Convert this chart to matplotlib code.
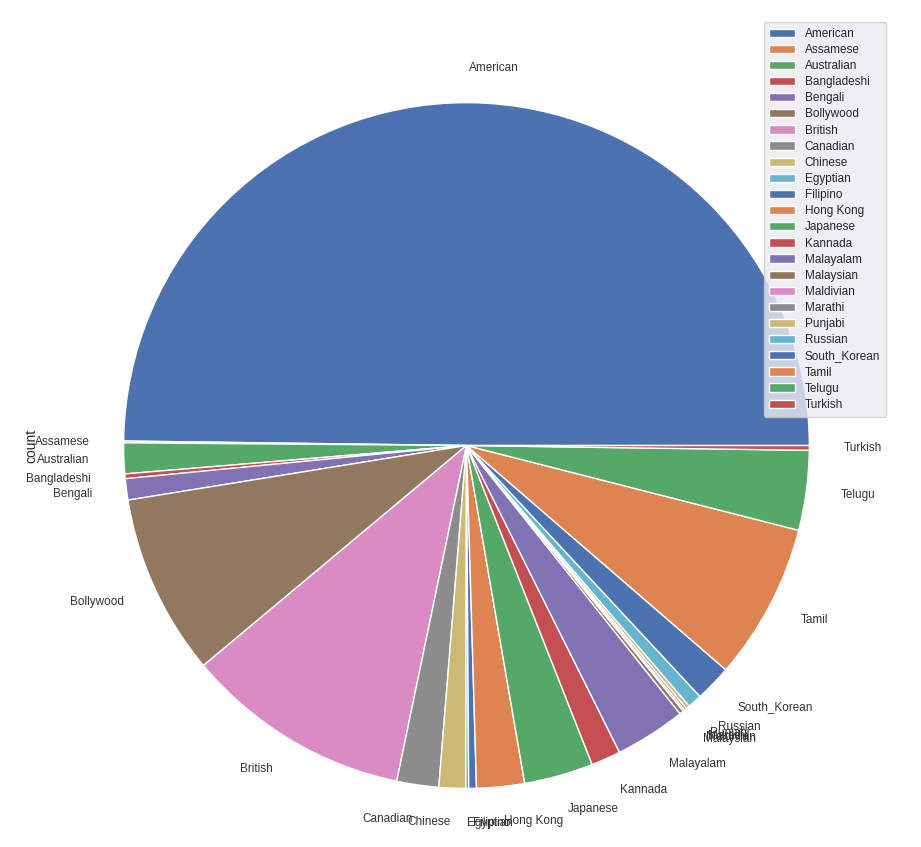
import matplotlib
matplotlib.use("Agg")
import matplotlib.pyplot as plt
import seaborn as sns

sns.set_theme()
plt.rcParams['font.family'] = ['Liberation Sans', 'DejaVu Sans']
categories = ["American","Assamese","Australian","Bangladeshi","Bengali","Bollywood","British",
              "Canadian","Chinese","Egyptian","Filipino","Hong Kong","Japanese","Kannada",
              "Malayalam","Malaysian","Maldivian","Marathi","Punjabi","Russian","South_Korean",
              "Tamil","Telugu","Turkish"]
counts = [1790,3,52,8,36,307,383,71,45,5,13,81,117,50,120,7,3,4,6,24,62,265,135,8]

fig = plt.figure(figsize=(9.21,8.47), dpi=100)
ax = fig.add_axes([0.041,-0.032,0.931,1.012])
colors = sns.color_palette("deep", 10)
cols = [colors[i % 10] for i in range(len(categories))]
wedges, texts = ax.pie(counts, labels=categories, colors=cols,
                       wedgeprops=dict(linewidth=1, edgecolor="white"),
                       textprops=dict(fontsize=8.5, color="#333333"))
ax.set_ylabel("count", fontsize=10)
ax.yaxis.set_label_coords(0.0, 0.5)
ax.legend(wedges, categories, loc="upper right", fontsize=8.5,
          bbox_to_anchor=(892/921, 1-16/847), bbox_transform=fig.transFigure,
          labelspacing=0.35, handlelength=2.2, borderpad=0.5)
fig.savefig("out.png", dpi=100)
